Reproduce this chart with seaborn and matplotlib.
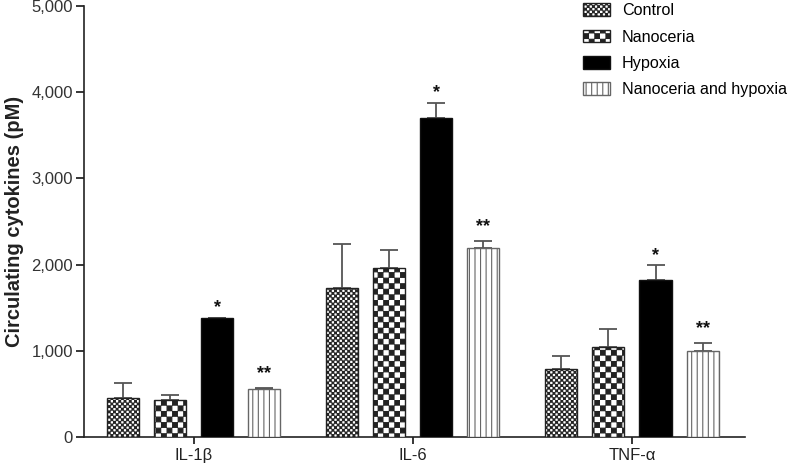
import warnings
import numpy as np
import pandas as pd
import matplotlib
matplotlib.use('Agg')
import matplotlib.pyplot as plt
import matplotlib.hatch as mhatch
import matplotlib.patches as mpatches
from matplotlib.path import Path
from matplotlib.ticker import StrMethodFormatter
import seaborn as sns

warnings.filterwarnings('ignore')

# Data
cytokines = ['IL-1β', 'IL-6', 'TNF-α']
groups = ['Control', 'Nanoceria', 'Hypoxia', 'Nanoceria and hypoxia']
control = [449, 1732, 792]
control_sem = [181, 507, 148]
nanoceria = [426, 1957, 1048]
nanoceria_sem = [58, 209, 201]
hypoxia = [1377, 3704, 1821]
hypoxia_sem = [8, 174, 171]
nano_hypoxia = [557, 2189, 1001]
nano_hypoxia_sem = [11, 85, 89]
sig_marks = ['', '', '*', '**']


# checkerboard hatches (matplotlib has none built in)
class CheckerHatch(mhatch.HatchPatternBase):
    char = 'c'
    n = 18

    def __init__(self, hatch, density):
        self.on = hatch.count(self.char) > 0
        self.num_vertices = (self.n * self.n // 2) * 5 if self.on else 0

    def set_vertices_and_codes(self, vertices, codes):
        step = 1.0 / self.n
        inset = 0.004
        k = 0
        for i in range(self.n):
            for j in range(self.n):
                if (i + j) % 2:
                    continue
                x0, y0 = i * step + inset, j * step + inset
                x1, y1 = (i + 1) * step - inset, (j + 1) * step - inset
                vertices[k:k + 5] = [(x0, y0), (x1, y0), (x1, y1), (x0, y1), (x0, y0)]
                codes[k:k + 5] = [Path.MOVETO, Path.LINETO, Path.LINETO,
                                  Path.LINETO, Path.CLOSEPOLY]
                k += 5


class FineCheckerHatch(CheckerHatch):
    char = 'k'
    n = 38


mhatch._hatch_types.extend([CheckerHatch, FineCheckerHatch])

plt.rcParams['font.family'] = ['Liberation Sans', 'DejaVu Sans']
plt.rcParams['hatch.linewidth'] = 0.8

means = [control, nanoceria, hypoxia, nano_hypoxia]
sems = [control_sem, nanoceria_sem, hypoxia_sem, nano_hypoxia_sem]
df = pd.DataFrame({
    'cytokine': cytokines * len(groups),
    'group': np.repeat(groups, len(cytokines)),
    'level': np.concatenate(means),
})

fills = ['white', 'white', 'black', 'white']
hatches = ['k', 'c', '', '|||']
edges = ['#222222', '#222222', '#111111', '#666666']

fig = plt.figure(figsize=(7.89, 4.68), dpi=100)
ax = fig.add_axes([0.1065, 0.0662, 0.8375, 0.9208])

sns.barplot(data=df, x='cytokine', y='level', hue='group', order=cytokines,
            hue_order=groups, palette=fills, width=0.86, gap=0.32,
            errorbar=None, linewidth=1, legend=False, ax=ax)

for container, h, ec, sem, mark in zip(ax.containers, hatches, edges, sems, sig_marks):
    xs, ys = [], []
    for bar in container:
        bar.set_hatch(h)
        bar.set_edgecolor(ec)
        bar.set_zorder(3)
        xs.append(bar.get_x() + bar.get_width() / 2)
        ys.append(bar.get_height())
    ax.errorbar(xs, ys, yerr=[np.zeros(len(sem)), sem], fmt='none',
                ecolor='#555555', elinewidth=1.3, capsize=6.5, capthick=1.3, zorder=2)
    if mark:
        off = 1 if mark == '*' else 4
        for x, y, s in zip(xs, ys, sem):
            ax.annotate(mark, (x, y + s), xytext=(0, off), textcoords='offset points',
                        ha='center', va='bottom', fontsize=13, fontweight='bold',
                        color='#111111')

ax.set_xlim(-0.5, 2.515)
ax.set_ylim(0, 5000)
ax.set_yticks(range(0, 5001, 1000))
ax.yaxis.set_major_formatter(StrMethodFormatter('{x:,.0f}'))
ax.set_xlabel('')
ax.set_ylabel('Circulating cytokines (pM)', fontsize=14.5, fontweight='bold',
              color='#222222', labelpad=5)
for side in ['top', 'right']:
    ax.spines[side].set_visible(False)
for side in ['left', 'bottom']:
    ax.spines[side].set_linewidth(1.2)
    ax.spines[side].set_color('#222222')
ax.tick_params(axis='y', length=6, width=1.1, labelsize=12, labelcolor='#333333', pad=2)
ax.tick_params(axis='x', length=5, width=1.1, labelsize=12, labelcolor='#222222', pad=3)

handles = [mpatches.Patch(facecolor=f, edgecolor=e, hatch=h, linewidth=1, label=g)
           for f, h, e, g in zip(fills, hatches, edges, groups)]
fig.legend(handles=handles, loc='upper left', bbox_to_anchor=(0.739, 0.993),
           frameon=False, fontsize=11.6, handlelength=1.7, handleheight=0.85,
           handletextpad=0.7, labelspacing=0.7, borderpad=0, borderaxespad=0)

fig.savefig('out.png', dpi=100)
